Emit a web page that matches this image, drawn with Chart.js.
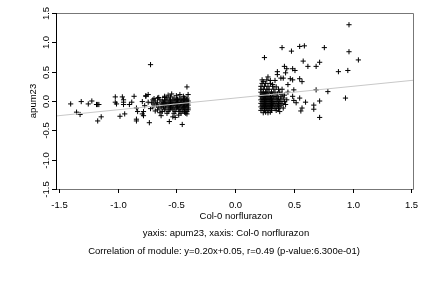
<!DOCTYPE html>
<html><head><meta charset="utf-8">
<script src="https://cdn.jsdelivr.net/npm/chart.js@4"></script>
<style>html,body{margin:0;padding:0;background:#fff}canvas{display:block}</style>
</head><body>
<canvas id="c" width="432" height="288"></canvas>
<script>
const xTicks = [-1.5, -1.0, -0.5, 0.0, 0.5, 1.0, 1.5];
const yTicks = [-1.5, -1.0, -0.5, 0.0, 0.5, 1.0, 1.5];
const xTitle = "Col-0 norflurazon";
const yTitle = "apum23";
const subTitle1 = "yaxis: apum23, xaxis: Col-0 norflurazon";
const subTitle2 = "Correlation of module: y=0.20x+0.05, r=0.49 (p-value:6.300e-01)";
// fit line end points
const fitX = [-1.525, 1.515];
const fitY = [-0.255, 0.353];

// left group outliers + cluster
const leftX = [-1.40,-1.35,-1.32,-1.31,-1.25,-1.22,-1.18,-1.17,-1.16,-1.17,-1.14,-1.02,-1.02,-1.01,-0.98,-0.96,-0.95,-0.95,-0.95,-0.94,-0.90,-0.86,-0.88,-0.84,-0.83,-0.84,-0.84,-0.79,-0.79,-0.78,-0.73,-0.76,-0.74,-0.72,-0.41,-0.45,-0.78,-0.51,-0.56,-0.63,-0.54,-0.47,-0.40,-0.60,-0.76,
-0.66,-0.58,-0.52,-0.47,-0.43,-0.41,
-0.70,-0.64,-0.60,-0.56,-0.53,-0.50,-0.46,-0.44,-0.41,
-0.68,-0.62,-0.59,-0.55,-0.51,-0.48,-0.45,-0.42,-0.40,
-0.71,-0.66,-0.61,-0.57,-0.54,-0.52,-0.49,-0.46,-0.43,-0.40,
-0.69,-0.63,-0.60,-0.58,-0.55,-0.50,-0.47,-0.44,-0.41,
-0.67,-0.62,-0.59,-0.56,-0.53,-0.51,-0.48,-0.45,-0.42,-0.40,
-0.70,-0.65,-0.61,-0.57,-0.54,-0.49,-0.46,-0.43,-0.41,
-0.63,-0.59,-0.55,-0.52,-0.50,-0.47,-0.44,-0.40,
-0.66,-0.60,-0.56,-0.53,-0.48,-0.45,-0.42,-0.40,
-0.62,-0.57,-0.51,-0.47,-0.43,-0.41,
-0.58,-0.52,-0.46,-0.42,
-0.74,-0.77,-0.72,-0.68,-0.65,-0.60,-0.55,-0.50,-0.44,-0.48,-0.53,-0.41,-0.57,-0.49,-0.43,-0.64,-0.69];
const leftY = [-0.05,-0.19,-0.23,-0.01,-0.05,0.00,-0.06,-0.06,-0.06,-0.34,-0.27,0.07,-0.02,-0.05,-0.26,0.07,0.02,-0.02,-0.06,-0.22,-0.06,0.08,-0.02,-0.12,-0.18,-0.31,-0.34,-0.22,-0.01,-0.18,-0.37,0.09,0.11,0.62,0.24,-0.40,-0.25,-0.28,-0.35,-0.25,0.12,0.11,0.11,0.06,0.08,
0.05,0.05,0.05,0.05,0.05,0.05,
0.02,0.02,0.02,0.02,0.02,0.02,0.02,0.02,0.02,
0.00,0.00,0.00,0.00,0.00,0.00,0.00,0.00,0.00,
-0.03,-0.03,-0.03,-0.03,-0.03,-0.03,-0.03,-0.03,-0.03,-0.03,
-0.05,-0.05,-0.05,-0.05,-0.05,-0.05,-0.05,-0.05,-0.05,
-0.07,-0.07,-0.07,-0.07,-0.07,-0.07,-0.07,-0.07,-0.07,-0.07,
-0.10,-0.10,-0.10,-0.10,-0.10,-0.10,-0.10,-0.10,-0.10,
-0.12,-0.12,-0.12,-0.12,-0.12,-0.12,-0.12,-0.12,
-0.15,-0.15,-0.15,-0.15,-0.15,-0.15,-0.15,-0.15,
-0.18,-0.18,-0.18,-0.18,-0.18,-0.18,
-0.21,-0.21,-0.21,-0.21,
-0.02,-0.08,-0.13,-0.17,0.06,0.08,0.07,0.09,0.08,-0.24,-0.27,-0.22,0.10,0.03,-0.19,-0.20,0.04];

// right group outliers + cluster
const rightX = [0.97,0.40,0.48,0.55,0.59,0.76,0.97,0.25,1.05,0.58,0.62,0.69,0.72,0.88,0.96,0.42,0.44,0.49,0.51,0.36,0.36,0.43,0.39,0.41,0.47,0.49,0.55,0.57,0.45,0.50,0.69,0.79,0.55,0.49,0.94,0.72,0.60,0.67,0.67,0.57,0.56,0.52,0.50,0.72,0.38,0.28,0.24,0.23,0.28,0.30,0.34,
0.23,0.26,0.30,
0.22,0.25,0.28,0.32,
0.22,0.24,0.27,0.29,0.33,0.37,
0.22,0.24,0.26,0.28,0.31,0.34,0.38,
0.23,0.25,0.27,0.30,0.32,0.36,0.40,
0.22,0.24,0.26,0.28,0.30,0.33,0.35,0.39,
0.23,0.25,0.27,0.29,0.31,0.34,0.37,0.41,
0.22,0.24,0.26,0.28,0.30,0.32,0.36,0.39,
0.23,0.25,0.27,0.29,0.31,0.33,0.35,0.38,0.42,
0.22,0.24,0.26,0.28,0.30,0.32,0.34,0.37,0.40,
0.23,0.25,0.27,0.29,0.31,0.33,0.36,0.39,
0.22,0.24,0.26,0.28,0.30,0.32,0.35,0.38,
0.23,0.25,0.27,0.29,0.31,0.34,0.37,
0.22,0.25,0.28,0.31,0.35,
0.26,0.30,
0.24,0.27,0.32,0.35,0.40,0.42,0.44,0.43,0.41,0.45];
const rightY = [1.30,0.91,0.85,0.93,0.94,0.91,0.84,0.74,0.70,0.68,0.59,0.59,0.66,0.50,0.52,0.59,0.55,0.55,0.52,0.50,0.45,0.48,0.39,0.39,0.38,0.36,0.38,0.33,0.28,0.19,0.19,0.16,0.05,0.08,0.05,0.00,-0.02,-0.07,-0.14,-0.12,-0.17,-0.03,0.01,-0.28,-0.18,-0.20,-0.20,0.36,0.41,0.35,0.35,
0.30,0.30,0.30,
0.25,0.25,0.25,0.25,
0.20,0.20,0.20,0.20,0.20,0.20,
0.15,0.15,0.15,0.15,0.15,0.15,0.15,
0.12,0.12,0.12,0.12,0.12,0.12,0.12,
0.08,0.08,0.08,0.08,0.08,0.08,0.08,0.08,
0.05,0.05,0.05,0.05,0.05,0.05,0.05,0.05,
0.02,0.02,0.02,0.02,0.02,0.02,0.02,0.02,
-0.01,-0.01,-0.01,-0.01,-0.01,-0.01,-0.01,-0.01,-0.01,
-0.04,-0.04,-0.04,-0.04,-0.04,-0.04,-0.04,-0.04,-0.04,
-0.07,-0.07,-0.07,-0.07,-0.07,-0.07,-0.07,-0.07,
-0.10,-0.10,-0.10,-0.10,-0.10,-0.10,-0.10,-0.10,
-0.13,-0.13,-0.13,-0.13,-0.13,-0.13,-0.13,
-0.16,-0.16,-0.16,-0.16,-0.16,
-0.19,-0.19,
0.33,0.36,0.28,0.24,0.20,0.10,0.02,-0.06,-0.12,0.15];

const toPts = (xs, ys) => xs.map((x, i) => ({x: x, y: ys[i]}));
const FONT = '"Liberation Sans", Arial, Helvetica, sans-serif';

const axesPlugin = {
  id: 'rAxes',
  afterDraw(chart) {
    const ctx = chart.ctx;
    const a = chart.chartArea;
    const xs = chart.scales.x, ys = chart.scales.y;
    ctx.save();
    // box
    ctx.strokeStyle = '#777';
    ctx.lineWidth = 1;
    ctx.beginPath();
    ctx.moveTo(a.left, a.top + 0.5); ctx.lineTo(a.right + 0.5, a.top + 0.5);
    ctx.lineTo(a.right + 0.5, a.bottom + 0.5); ctx.lineTo(a.left, a.bottom + 0.5);
    ctx.stroke();
    ctx.strokeStyle = '#000';
    ctx.beginPath();
    ctx.moveTo(a.left + 0.5, a.top); ctx.lineTo(a.left + 0.5, a.bottom + 1);
    ctx.stroke();
    // ticks
    ctx.fillStyle = '#000';
    ctx.font = '9.5px ' + FONT;
    ctx.textAlign = 'center';
    ctx.textBaseline = 'middle';
    xTicks.forEach(v => {
      const px = Math.round(xs.getPixelForValue(v)) + 0.5;
      ctx.beginPath(); ctx.moveTo(px, a.bottom); ctx.lineTo(px, a.bottom + 4); ctx.stroke();
      ctx.fillText(v.toFixed(1), px, 205);
    });
    yTicks.forEach(v => {
      const py = Math.round(ys.getPixelForValue(v)) + 0.5;
      ctx.beginPath(); ctx.moveTo(a.left, py); ctx.lineTo(a.left - 4, py); ctx.stroke();
      ctx.save();
      ctx.translate(46, py);
      ctx.rotate(-Math.PI / 2);
      ctx.fillText(v.toFixed(1), 0, 0);
      ctx.restore();
    });
    ctx.fillText(xTitle, 236, 216);
    ctx.fillText(subTitle1, 226, 233);
    ctx.fillText(subTitle2, 224, 251);
    ctx.save();
    ctx.translate(33, (a.top + a.bottom) / 2);
    ctx.rotate(-Math.PI / 2);
    ctx.fillText(yTitle, 0, 0);
    ctx.restore();
    ctx.restore();
  }
};

new Chart(document.getElementById('c'), {
  type: 'scatter',
  data: {
    datasets: [
      {
        type: 'line',
        data: toPts(fitX, fitY),
        borderColor: '#c8c8c8',
        borderWidth: 1,
        pointRadius: 0,
        fill: false
      },
      {
        data: toPts(leftX, leftY).concat(toPts(rightX, rightY)),
        pointStyle: 'cross',
        pointRadius: 2.6,
        borderColor: '#000',
        backgroundColor: '#000',
        borderWidth: 1
      }
    ]
  },
  options: {
    responsive: false,
    animation: false,
    events: [],
    layout: { padding: { left: 56, right: 19, top: 13, bottom: 99 } },
    plugins: { legend: { display: false }, tooltip: { enabled: false } },
    scales: {
      x: { type: 'linear', display: false, min: -1.525, max: 1.515 },
      y: { type: 'linear', display: false, min: -1.5, max: 1.5 }
    }
  },
  plugins: [axesPlugin]
});
</script>
</body></html>
